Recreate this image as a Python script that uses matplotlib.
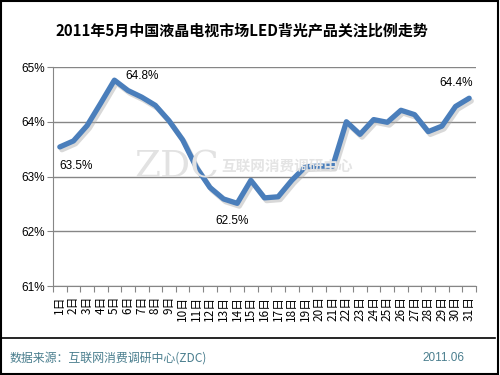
import numpy as np
import matplotlib.pyplot as plt
import matplotlib.patheffects as pe
from matplotlib.lines import Line2D
from matplotlib.patches import Rectangle

plt.rcParams['font.family'] = ['Noto Sans CJK SC', 'DejaVu Sans']

# data
days = [f"{d}日" for d in range(1, 32)]
share = [63.54, 63.65, 63.93, 64.34, 64.76, 64.57, 64.45, 64.30, 64.02, 63.67,
         63.17, 62.80, 62.59, 62.51, 62.93, 62.61, 62.63, 62.93, 63.18, 63.19,
         63.19, 64.00, 63.77, 64.04, 63.99, 64.21, 64.13, 63.82, 63.92, 64.28,
         64.43]
yticks = [61, 62, 63, 64, 65]
ytick_labels = ["61%", "62%", "63%", "64%", "65%"]
# (index, label, dx, dy)
notes = [(0, "63.5%", 0.0, -0.35),
         (4, "64.8%", 0.8, 0.07),
         (13, "62.5%", -1.6, -0.33),
         (30, "64.4%", -2.2, 0.27)]

fig = plt.figure(figsize=(5, 3.75), dpi=100)
ax = fig.add_axes([0.106, 0.2373, 0.846, 0.584])

x = np.arange(len(days))
ax.plot(x, share, color='#4a7ebb', lw=3.8, solid_joinstyle='round', solid_capstyle='round',
        zorder=3,
        path_effects=[pe.SimpleLineShadow(offset=(1.5, -2), shadow_color='#aaaaaa', alpha=0.45),
                      pe.Normal()])

for i, lab, dx, dy in notes:
    ax.text(x[i] + dx, share[i] + dy, lab, fontsize=8.5, ha='left', va='center', color='black',
            family=['Liberation Sans'], zorder=4)

ax.set_xlim(-0.5, len(days) - 0.5)
ax.set_ylim(61, 65)
ax.set_yticks(yticks)
ax.set_yticklabels(ytick_labels, fontsize=8.5, family=['Liberation Sans'])
ax.yaxis.grid(True, color='#868686', lw=1)
ax.set_axisbelow(True)

ax.set_xticks(np.arange(-0.5, len(days), 1.0))
ax.set_xticklabels([])
ax.set_xticks(x, minor=True)
ax.set_xticklabels(days, minor=True, rotation=90, fontsize=8.5)
ax.tick_params(axis='x', which='minor', length=0, pad=7)
ax.tick_params(axis='x', which='major', length=4, color='#868686')
ax.tick_params(axis='y', length=4, color='#868686', pad=2)

for s in ['top', 'right']:
    ax.spines[s].set_visible(False)
for s in ['left', 'bottom']:
    ax.spines[s].set_color('#868686')

# watermark
fig.text(0.268, 0.552, "ZDC", fontsize=27, color='#e2e2e2', family=['DejaVu Serif'],
         va='center', ha='left', zorder=5)
fig.text(0.442, 0.558, "互联网消费调研中心", fontsize=10.5, color='#e4e4e4', fontweight='bold',
         va='center', ha='left', zorder=5)

fig.text(0.484, 0.92, "2011年5月中国液晶电视市场LED背光产品关注比例走势",
         fontsize=10.8, fontweight='bold', ha='center', va='center')

fig.add_artist(Line2D([0.0, 0.99], [0.099, 0.099], color='black', lw=1.2))
fig.text(0.02, 0.045, "数据来源：互联网消费调研中心(ZDC)", fontsize=8.6, color='#4a7e8e',
         ha='left', va='center')
fig.text(0.845, 0.045, "2011.06", fontsize=8.5, color='#4a7e8e', ha='left', va='center',
         family=['Liberation Sans'])
fig.add_artist(Rectangle((0.002, 0.003), 0.994, 0.994, fill=False, ec='black', lw=1.5,
                         transform=fig.transFigure))

fig.savefig("out.png", dpi=100)
